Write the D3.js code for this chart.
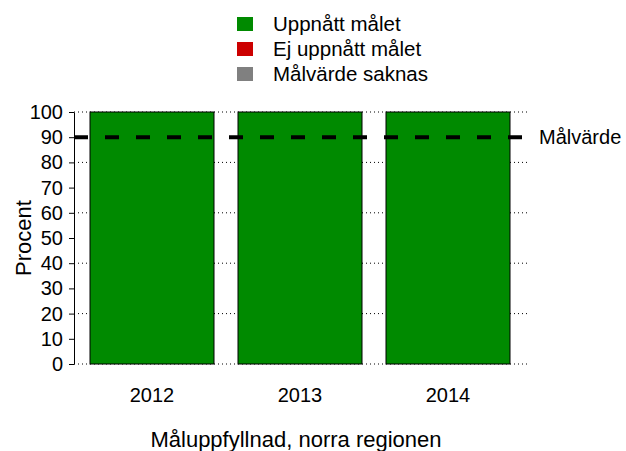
<!DOCTYPE html>
<html><head><meta charset="utf-8">
<script src="https://cdn.jsdelivr.net/npm/d3@7"></script>
<style>body{margin:0;background:#fff}svg{display:block}text{font-family:"Liberation Sans",Arial,sans-serif;fill:#000}</style>
</head><body><svg id="c" width="626" height="451"></svg>
<script>
const categories = ["2012","2013","2014"];
const achieved = [100,100,100];
const target = 90;
const yTicks = [0,10,20,30,40,50,60,70,80,90,100];
const gridTicks = [0,20,40,60,80,100];
const legendLabels = ["Uppnått målet","Ej uppnått målet","Målvärde saknas"];
const legendColors = ["#008a00","#cc0000","#808080"];

const svg = d3.select("#c");
const x = d3.scaleBand().domain(categories).range([78,522]).paddingInner(24/148).paddingOuter(12/148);
const y = d3.scaleLinear().domain([0,100]).range([364,112]);
const xL = 74, xR = 527;

// grid
svg.append("g").selectAll("line").data(gridTicks).join("line")
  .attr("x1",xL).attr("x2",xR).attr("y1",d=>y(d)).attr("y2",d=>y(d))
  .attr("stroke","#000").attr("stroke-width",1).attr("stroke-dasharray","1,3");

// bars
svg.append("g").selectAll("rect").data(categories).join("rect")
  .attr("x",d=>x(d)).attr("width",x.bandwidth())
  .attr("y",(d,i)=>y(achieved[i])).attr("height",(d,i)=>y(0)-y(achieved[i]))
  .attr("fill",legendColors[0]).attr("stroke","#000").attr("stroke-width",1);

// target line
svg.append("line").attr("x1",xL).attr("x2",xR).attr("y1",y(target)).attr("y2",y(target))
  .attr("stroke","#000").attr("stroke-width",4).attr("stroke-dasharray","14,17");
svg.append("text").attr("x",539).attr("y",y(target)).attr("dy","0.35em")
  .attr("font-size",20).text("Målvärde");

// y axis
const ya = svg.append("g").attr("transform",`translate(${xL},0)`)
  .call(d3.axisLeft(y).tickValues(yTicks).tickSize(5).tickPadding(6).tickSizeOuter(0));
ya.select(".domain").attr("stroke","#000");
ya.selectAll("line").attr("stroke","#000");
ya.selectAll("text").attr("font-size",20).attr("font-family","Liberation Sans, Arial, sans-serif").attr("fill","#000");

// x labels
svg.append("g").selectAll("text").data(categories).join("text")
  .attr("x",d=>x(d)+x.bandwidth()/2).attr("y",395).attr("dy","0.35em")
  .attr("text-anchor","middle").attr("font-size",20).text(d=>d);

svg.append("text").attr("x",296).attr("y",439).attr("dy","0.35em")
  .attr("text-anchor","middle").attr("font-size",22).text("Måluppfyllnad, norra regionen");
svg.append("text").attr("transform","translate(23,238) rotate(-90)").attr("dy","0.35em")
  .attr("text-anchor","middle").attr("font-size",22).text("Procent");

// legend
const lg = svg.append("g").selectAll("g").data(legendLabels).join("g")
  .attr("transform",(d,i)=>`translate(237,${24+i*25})`);
lg.append("rect").attr("x",0).attr("y",-7).attr("width",16).attr("height",14).attr("fill",(d,i)=>legendColors[i]);
lg.append("text").attr("x",36).attr("dy","0.35em").attr("font-size",20.5).text(d=>d);
</script></body></html>
